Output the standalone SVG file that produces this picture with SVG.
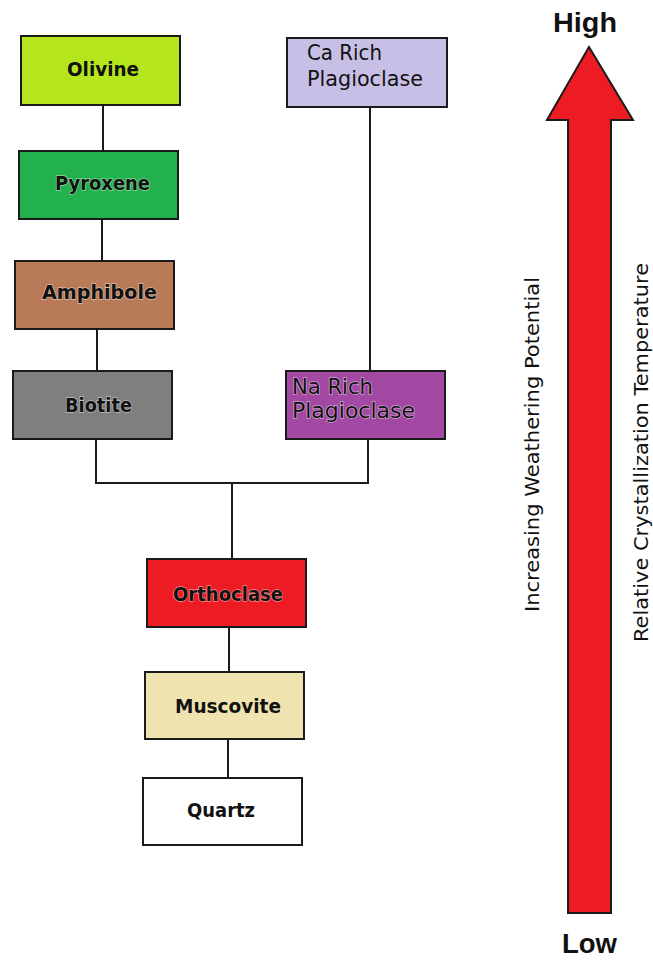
<svg xmlns="http://www.w3.org/2000/svg" width="653" height="960" viewBox="0 0 653 960">
<style>
.box{stroke:#1a1a1a;stroke-width:2}
.lbl{font-family:"DejaVu Sans","Liberation Sans",sans-serif;font-size:20px;font-weight:bold;fill:#111}
.reg{font-family:"DejaVu Sans","Liberation Sans",sans-serif;font-size:21px;fill:#111}
.halo{stroke:#fff;stroke-width:1.4;stroke-opacity:0.5;paint-order:stroke}
.conn{stroke:#1a1a1a;stroke-width:2;fill:none}
.side{font-family:"DejaVu Sans","Liberation Sans",sans-serif;font-size:19px;fill:#111}
.hl{font-family:"Liberation Sans",Arial,sans-serif;font-weight:bold;font-size:27px;fill:#111}
</style>
<rect width="653" height="960" fill="#fff"/>
<g id="connectors">
<line class="conn" x1="103" y1="105" x2="103" y2="151"/>
<line class="conn" x1="102" y1="219" x2="102" y2="261"/>
<line class="conn" x1="97" y1="329" x2="97" y2="371"/>
<polyline class="conn" points="96,439 96,483 368,483 368,439"/>
<line class="conn" x1="370" y1="107" x2="370" y2="371"/>
<line class="conn" x1="232" y1="483" x2="232" y2="559"/>
<line class="conn" x1="229" y1="627" x2="229" y2="672"/>
<line class="conn" x1="228" y1="739" x2="228" y2="778"/>
</g>
<g id="olivine">
<rect class="box" x="21" y="36" width="159" height="69" fill="#b5e61d"/>
<text class="lbl" x="67" y="76" textLength="72" lengthAdjust="spacingAndGlyphs">Olivine</text>
</g>
<g id="pyroxene">
<rect class="box" x="19" y="151" width="159" height="68" fill="#22b14c"/>
<text class="lbl halo" x="55" y="190" textLength="95" lengthAdjust="spacingAndGlyphs">Pyroxene</text>
</g>
<g id="amphibole">
<rect class="box" x="15" y="261" width="159" height="68" fill="#b97a57"/>
<text class="lbl halo" x="42" y="299" textLength="115" lengthAdjust="spacingAndGlyphs">Amphibole</text>
</g>
<g id="biotite">
<rect class="box" x="13" y="371" width="159" height="68" fill="#7f7f7f"/>
<text class="lbl halo" x="65" y="412" textLength="67" lengthAdjust="spacingAndGlyphs">Biotite</text>
</g>
<g id="ca-rich-plagioclase">
<rect class="box" x="287" y="38" width="160" height="69" fill="#c8bfe7"/>
<text class="reg" x="307" y="60" textLength="75" lengthAdjust="spacingAndGlyphs">Ca Rich</text>
<text class="reg" x="307" y="86" textLength="116" lengthAdjust="spacingAndGlyphs">Plagioclase</text>
</g>
<g id="na-rich-plagioclase">
<rect class="box" x="286" y="371" width="159" height="68" fill="#a349a4"/>
<text class="reg halo" x="292" y="394" textLength="81" lengthAdjust="spacingAndGlyphs">Na Rich</text>
<text class="reg halo" x="292" y="418" textLength="123" lengthAdjust="spacingAndGlyphs">Plagioclase</text>
</g>
<g id="orthoclase">
<rect class="box" x="147" y="559" width="159" height="68" fill="#ed1c24"/>
<text class="lbl halo" x="173" y="601" textLength="110" lengthAdjust="spacingAndGlyphs">Orthoclase</text>
</g>
<g id="muscovite">
<rect class="box" x="145" y="672" width="159" height="67" fill="#efe4b0"/>
<text class="lbl" x="175" y="713" textLength="106" lengthAdjust="spacingAndGlyphs">Muscovite</text>
</g>
<g id="quartz">
<rect class="box" x="143" y="778" width="159" height="67" fill="#ffffff"/>
<text class="lbl" x="187" y="817" textLength="68" lengthAdjust="spacingAndGlyphs">Quartz</text>
</g>
<g id="arrow">
<polygon points="589,47 633,120 611,120 611,913 568,913 568,120 547,120" fill="#ed1c24" stroke="#1a1a1a" stroke-width="2" stroke-linejoin="miter"/>
<text class="hl" x="553" y="32" textLength="64" lengthAdjust="spacingAndGlyphs">High</text>
<text class="hl" x="562" y="953" textLength="55" lengthAdjust="spacingAndGlyphs">Low</text>
</g>
<g id="axis-labels">
<text class="side" transform="translate(539,612) rotate(-90)" textLength="335" lengthAdjust="spacingAndGlyphs">Increasing Weathering Potential</text>
<text class="side" transform="translate(648,642) rotate(-90)" textLength="379" lengthAdjust="spacingAndGlyphs">Relative Crystallization Temperature</text>
</g>
</svg>
